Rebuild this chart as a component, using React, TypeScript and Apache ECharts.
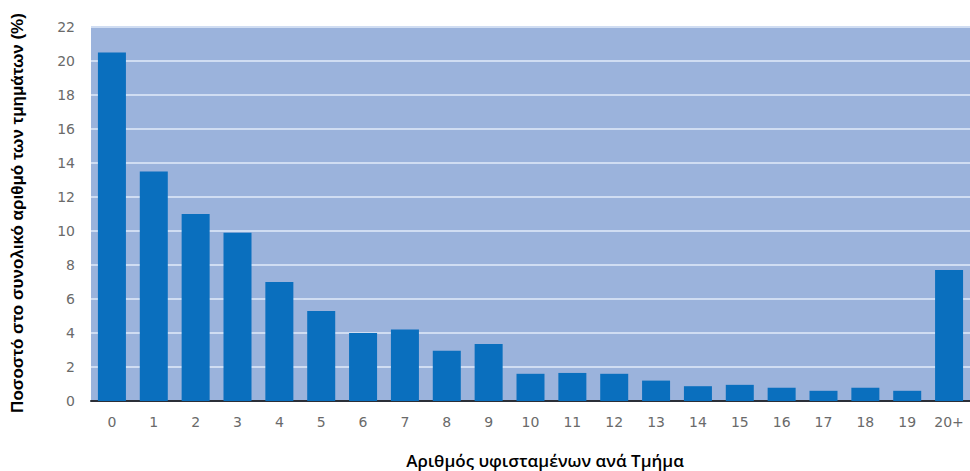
import React, { useEffect, useRef } from "react";
import * as echarts from "echarts";

const categories = ["0", "1", "2", "3", "4", "5", "6", "7", "8", "9", "10", "11", "12", "13", "14", "15", "16", "17", "18", "19", "20+"];
const values = [20.5, 13.5, 11.0, 9.9, 7.0, 5.3, 4.0, 4.2, 2.95, 3.35, 1.6, 1.65, 1.6, 1.2, 0.87, 0.95, 0.78, 0.6, 0.78, 0.6, 7.7];
const yTitle = "Ποσοστό στο συνολικό αριθμό των τμημάτων (%)";
const xTitle = "Αριθμός υφισταμένων ανά Τμήμα";

export default function App() {
  const ref = useRef<HTMLDivElement>(null);
  useEffect(() => {
    if (!ref.current) return;
    const chart = echarts.init(ref.current, null, { renderer: "svg" });
    chart.setOption({
      animation: false,
      backgroundColor: "#ffffff",
      grid: {
        left: 91,
        top: 27,
        right: -5,
        bottom: 70,
        show: true,
        backgroundColor: "#9bb3dc",
        borderWidth: 0,
      },
      xAxis: {
        type: "category",
        data: categories,
        axisLine: { show: true, lineStyle: { color: "#2b2f38", width: 2 } },
        axisTick: { show: false },
        axisLabel: { color: "#6a6a6a", fontSize: 14, fontFamily: "DejaVu Sans", margin: 14 },
      },
      yAxis: {
        type: "value",
        min: 0,
        max: 22,
        interval: 2,
        axisLine: { show: false },
        axisTick: { show: false },
        axisLabel: { color: "#6a6a6a", fontSize: 14, fontFamily: "DejaVu Sans", margin: 16 },
        splitLine: { show: true, lineStyle: { color: "#d0ddf2", width: 2 } },
      },
      graphic: [
        {
          type: "text",
          x: 17,
          y: 213,
          rotation: Math.PI / 2,
          style: {
            text: yTitle,
            fill: "#000000",
            font: "bold 17px 'Liberation Sans'",
            align: "center",
            verticalAlign: "middle",
          },
        },
        {
          type: "text",
          x: 545,
          y: 460,
          style: {
            text: xTitle,
            fill: "#000000",
            font: "600 17px 'Open Sans'",
            align: "center",
            verticalAlign: "middle",
          },
        },
      ],
      series: [
        {
          type: "bar",
          data: values,
          barWidth: 28,
          itemStyle: { color: "#0a6fbe" },
        },
      ],
    });
    return () => chart.dispose();
  }, []);
  return <div ref={ref} style={{ position: "absolute", left: 0, top: 0, width: 970, height: 471 }} />;
}
